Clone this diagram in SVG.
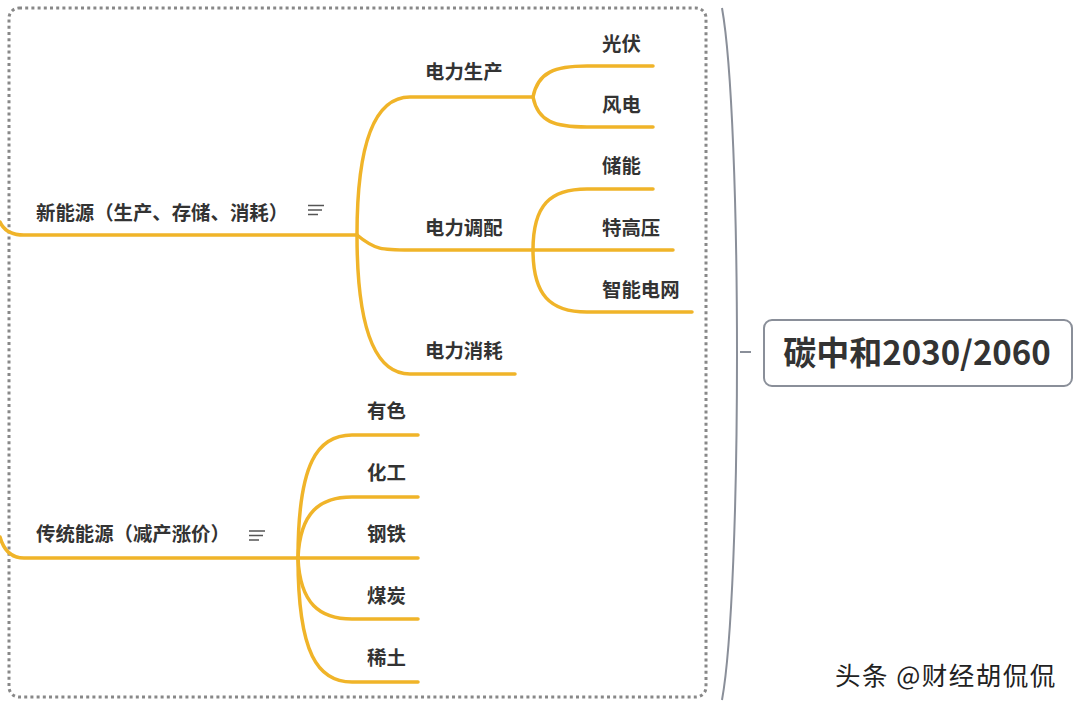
<svg xmlns="http://www.w3.org/2000/svg" width="1080" height="708" viewBox="0 0 1080 708">
<style>
.ln{fill:none;stroke:#F0B429;stroke-width:3.5;stroke-linecap:round}
.t{font-family:"Noto Sans CJK SC","Noto Sans",sans-serif;font-weight:bold;font-size:19.4px;fill:#333}
.ic{stroke:#555;stroke-width:1.6;fill:none}
</style>
<rect width="1080" height="708" fill="#fff"/>
<rect x="9" y="8" width="697" height="689" rx="10" fill="none" stroke="#888" stroke-width="3" stroke-dasharray="3 3.2"/>
<g id="connectors">
<path class="ln" d="M0,222 Q6,235 24,235 L357,235"/>
<path class="ln" d="M357,235 Q357,97 410,97 L533,97"/>
<path class="ln" d="M357,235 C375,250 382,250 410,250 L533,250"/>
<path class="ln" d="M357,235 Q357,374 410,374 L515,374"/>
<path class="ln" d="M533,97 C538,72 555,66 587,66 L653,66"/>
<path class="ln" d="M533,97 C538,122 555,127 587,127 L653,127"/>
<path class="ln" d="M533,250 C533,205 550,189 587,189 L653,189"/>
<path class="ln" d="M533,250 L673,250"/>
<path class="ln" d="M533,250 C533,295 550,312 587,312 L692,312"/>
<path class="ln" d="M0,537 Q6,558 24,558 L298,558"/>
<path class="ln" d="M298,558 C298,462 318,435 352,435 L418,435"/>
<path class="ln" d="M298,558 C300,512 320,497 352,497 L418,497"/>
<path class="ln" d="M298,558 L418,558"/>
<path class="ln" d="M298,558 C300,604 320,619 352,619 L418,619"/>
<path class="ln" d="M298,558 C298,654 318,682 352,682 L418,682"/>
<path fill="none" stroke="#8a8f99" stroke-width="2" d="M722,8 C742,120 742,590 722,700"/>
<path fill="none" stroke="#8a8f99" stroke-width="2" d="M740,352 L751,352"/>
</g>
<g id="n-new"><text class="t" x="36" y="220">新能源（生产、存储、消耗）</text>
<path class="ic" d="M308,205.5 H324 M308,210 H322 M308,214.5 H318"/></g>
<g id="n-trad"><text class="t" x="36" y="541">传统能源（减产涨价）</text>
<path class="ic" d="M249,531 H265 M249,535.5 H263 M249,540 H259"/></g>
<g id="n-prod"><text class="t" x="425" y="79">电力生产</text></g>
<g id="n-disp"><text class="t" x="425" y="235">电力调配</text></g>
<g id="n-cons"><text class="t" x="425" y="358">电力消耗</text></g>
<g id="n-pv"><text class="t" x="602" y="51">光伏</text></g>
<g id="n-wind"><text class="t" x="602" y="112">风电</text></g>
<g id="n-store"><text class="t" x="602" y="173">储能</text></g>
<g id="n-uhv"><text class="t" x="602" y="235">特高压</text></g>
<g id="n-grid"><text class="t" x="602" y="297">智能电网</text></g>
<g id="n-metal"><text class="t" x="367" y="418">有色</text></g>
<g id="n-chem"><text class="t" x="367" y="480">化工</text></g>
<g id="n-steel"><text class="t" x="367" y="541">钢铁</text></g>
<g id="n-coal"><text class="t" x="367" y="603">煤炭</text></g>
<g id="n-re"><text class="t" x="367" y="665">稀土</text></g>
<g id="n-root"><rect x="764" y="320" width="308" height="66" rx="8" fill="#fff" stroke="#8a8f99" stroke-width="2"/>
<text x="917" y="365" text-anchor="middle" font-family="Noto Sans CJK SC,Noto Sans,sans-serif" font-weight="bold" font-size="33" fill="#333">碳中和2030/2060</text></g>
<text x="835" y="685" font-family="Noto Sans CJK SC,sans-serif" font-size="25.5" letter-spacing="1.5" fill="#222">头条 @财经胡侃侃</text>
</svg>
